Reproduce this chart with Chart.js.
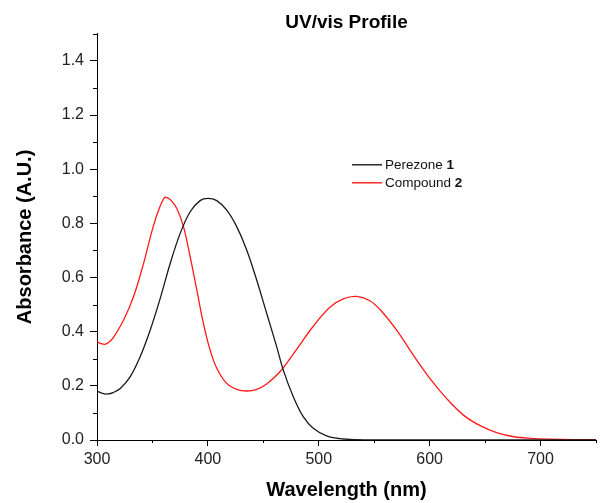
<!DOCTYPE html>
<html>
<head>
<meta charset="utf-8">
<script src="https://cdn.jsdelivr.net/npm/chart.js@4.4.1/dist/chart.umd.min.js"></script>
<style>
  html, body { margin: 0; padding: 0; background: #fff; }
  #wrap { width: 600px; height: 503px; position: relative; }
</style>
</head>
<body>
<div id="wrap"><canvas id="uvChart"></canvas></div>
<script>
const wlPerezone = [300, 305, 310, 315, 321, 330, 339, 348, 357, 366, 375, 384, 393, 400, 408, 417, 426, 435, 444, 453, 462, 468, 477, 486, 495, 507, 519, 534, 550, 600, 650, 700, 750];
const absPerezone = [0.181, 0.172, 0.170, 0.176, 0.190, 0.234, 0.308, 0.406, 0.523, 0.652, 0.763, 0.843, 0.884, 0.892, 0.884, 0.849, 0.788, 0.702, 0.591, 0.468, 0.345, 0.258, 0.160, 0.086, 0.043, 0.015, 0.005, 0.001, 0, 0, 0, 0, 0];

const wlCompound = [300, 303, 307, 311, 315, 324, 333, 342, 349, 355, 361, 364, 367, 372, 378, 384, 390, 396, 402, 408, 417, 426, 435, 444, 453, 465, 480, 495, 510, 522, 534, 546, 556, 571, 586, 601, 616, 631, 646, 661, 676, 691, 706, 730, 750];
const absCompound = [0.363, 0.357, 0.353, 0.362, 0.380, 0.443, 0.530, 0.652, 0.763, 0.843, 0.896, 0.893, 0.884, 0.855, 0.788, 0.677, 0.554, 0.430, 0.332, 0.265, 0.209, 0.187, 0.181, 0.187, 0.207, 0.252, 0.335, 0.420, 0.490, 0.521, 0.530, 0.514, 0.478, 0.401, 0.309, 0.223, 0.150, 0.090, 0.052, 0.026, 0.012, 0.006, 0.003, 0.001, 0.001];

const xTickLabels = [300, 400, 500, 600, 700];
const yTickLabels = [0.0, 0.2, 0.4, 0.6, 0.8, 1.0, 1.2, 1.4];
const seriesNames = ['Perezone ', 'Compound '];
const seriesNumbers = ['1', '2'];
const seriesColors = ['#1a1a1a', '#ff1a1a'];

const FONT = "'Liberation Sans', Arial, sans-serif";

function isMajorX(v) {
    return xTickLabels.includes(Math.round(v));
}
function isMajorY(v) {
    return yTickLabels.some(t => Math.abs(t - v) < 1e-6);
}

// marcas menores (más cortas) en ambos ejes
const minorTicks = {
    id: 'minorTicks',
    afterDraw(chart) {
        const { ctx, scales: { x, y } } = chart;
        ctx.save();
        ctx.strokeStyle = '#000';
        ctx.lineWidth = 1;
        ctx.beginPath();
        x.ticks.forEach(t => {
            if (isMajorX(t.value)) return;
            const px = Math.round(x.getPixelForValue(t.value)) + 0.5;
            ctx.moveTo(px, x.top);
            ctx.lineTo(px, x.top + 3);
        });
        y.ticks.forEach(t => {
            if (isMajorY(t.value)) return;
            const py = Math.round(y.getPixelForValue(t.value)) + 0.5;
            ctx.moveTo(y.right - 4, py);
            ctx.lineTo(y.right, py);
        });
        ctx.stroke();
        ctx.restore();
    }
};

// leyenda dentro del área, con el número en negrita
const innerLegend = {
    id: 'innerLegend',
    afterDraw(chart) {
        const { ctx, chartArea } = chart;
        const x0 = chartArea.left + 255;
        const y0 = chartArea.top + 131;
        ctx.save();
        ctx.textBaseline = 'middle';
        seriesNames.forEach((name, i) => {
            const yy = y0 + i * 18;
            ctx.strokeStyle = seriesColors[i];
            ctx.lineWidth = 1.4;
            ctx.beginPath();
            ctx.moveTo(x0, yy);
            ctx.lineTo(x0 + 30, yy);
            ctx.stroke();
            ctx.fillStyle = '#111';
            ctx.font = '13.5px ' + FONT;
            ctx.fillText(name, x0 + 33, yy);
            const w = ctx.measureText(name).width;
            ctx.font = 'bold 13.5px ' + FONT;
            ctx.fillText(seriesNumbers[i], x0 + 33 + w, yy);
        });
        ctx.restore();
    }
};

const ctx = document.getElementById('uvChart').getContext('2d');
const uvChart = new Chart(ctx, {
    type: 'line',
    data: {
        datasets: [{
            label: 'Perezone 1',
            data: wlPerezone.map((w, i) => ({ x: w, y: absPerezone[i] })),
            borderColor: seriesColors[0],
            borderWidth: 1.3,
            pointRadius: 0,
            tension: 0.35,
            fill: false
        }, {
            label: 'Compound 2',
            data: wlCompound.map((w, i) => ({ x: w, y: absCompound[i] })),
            borderColor: seriesColors[1],
            borderWidth: 1.3,
            pointRadius: 0,
            tension: 0.35,
            fill: false
        }]
    },
    options: {
        responsive: true,
        maintainAspectRatio: false,
        animation: false,
        layout: { padding: { left: 0, right: 1, top: 0, bottom: 0 } },
        plugins: {
            legend: { display: false },
            tooltip: { enabled: false },
            title: {
                display: true,
                text: 'UV/vis Profile',
                fullSize: false,
                color: '#000',
                font: { family: FONT, size: 19, weight: 'bold' },
                padding: { top: 11, bottom: 0 }
            }
        },
        scales: {
            x: {
                type: 'linear',
                min: 300,
                max: 750,
                afterFit(scale) { scale.height = 63; },
                ticks: {
                    stepSize: 50,
                    padding: 4,
                    maxRotation: 0,
                    color: '#222',
                    font: { family: FONT, size: 16 },
                    callback: v => isMajorX(v) ? String(Math.round(v)) : ''
                },
                grid: {
                    drawOnChartArea: false,
                    tickLength: 6,
                    tickColor: c => (c.tick && isMajorX(c.tick.value)) ? '#000' : 'rgba(0,0,0,0)'
                },
                border: { color: '#000', width: 1 },
                title: {
                    display: true,
                    text: 'Wavelength (nm)',
                    color: '#000',
                    font: { family: FONT, size: 20, weight: 'bold' },
                    padding: { top: 0, bottom: 1 }
                }
            },
            y: {
                min: 0,
                max: 1.5,
                afterFit(scale) { scale.width = 97; },
                ticks: {
                    stepSize: 0.1,
                    padding: 6,
                    color: '#222',
                    font: { family: FONT, size: 16 },
                    callback: v => isMajorY(v) ? v.toFixed(1) : ''
                },
                grid: {
                    drawOnChartArea: false,
                    tickLength: 7,
                    tickColor: c => (c.tick && isMajorY(c.tick.value)) ? '#000' : 'rgba(0,0,0,0)'
                },
                border: { color: '#000', width: 1 },
                title: {
                    display: true,
                    text: 'Absorbance (A.U.)',
                    color: '#000',
                    font: { family: FONT, size: 20, weight: 'bold' },
                    padding: { top: 13, bottom: 0 }
                }
            }
        }
    },
    plugins: [minorTicks, innerLegend]
});
</script>
</body>
</html>
